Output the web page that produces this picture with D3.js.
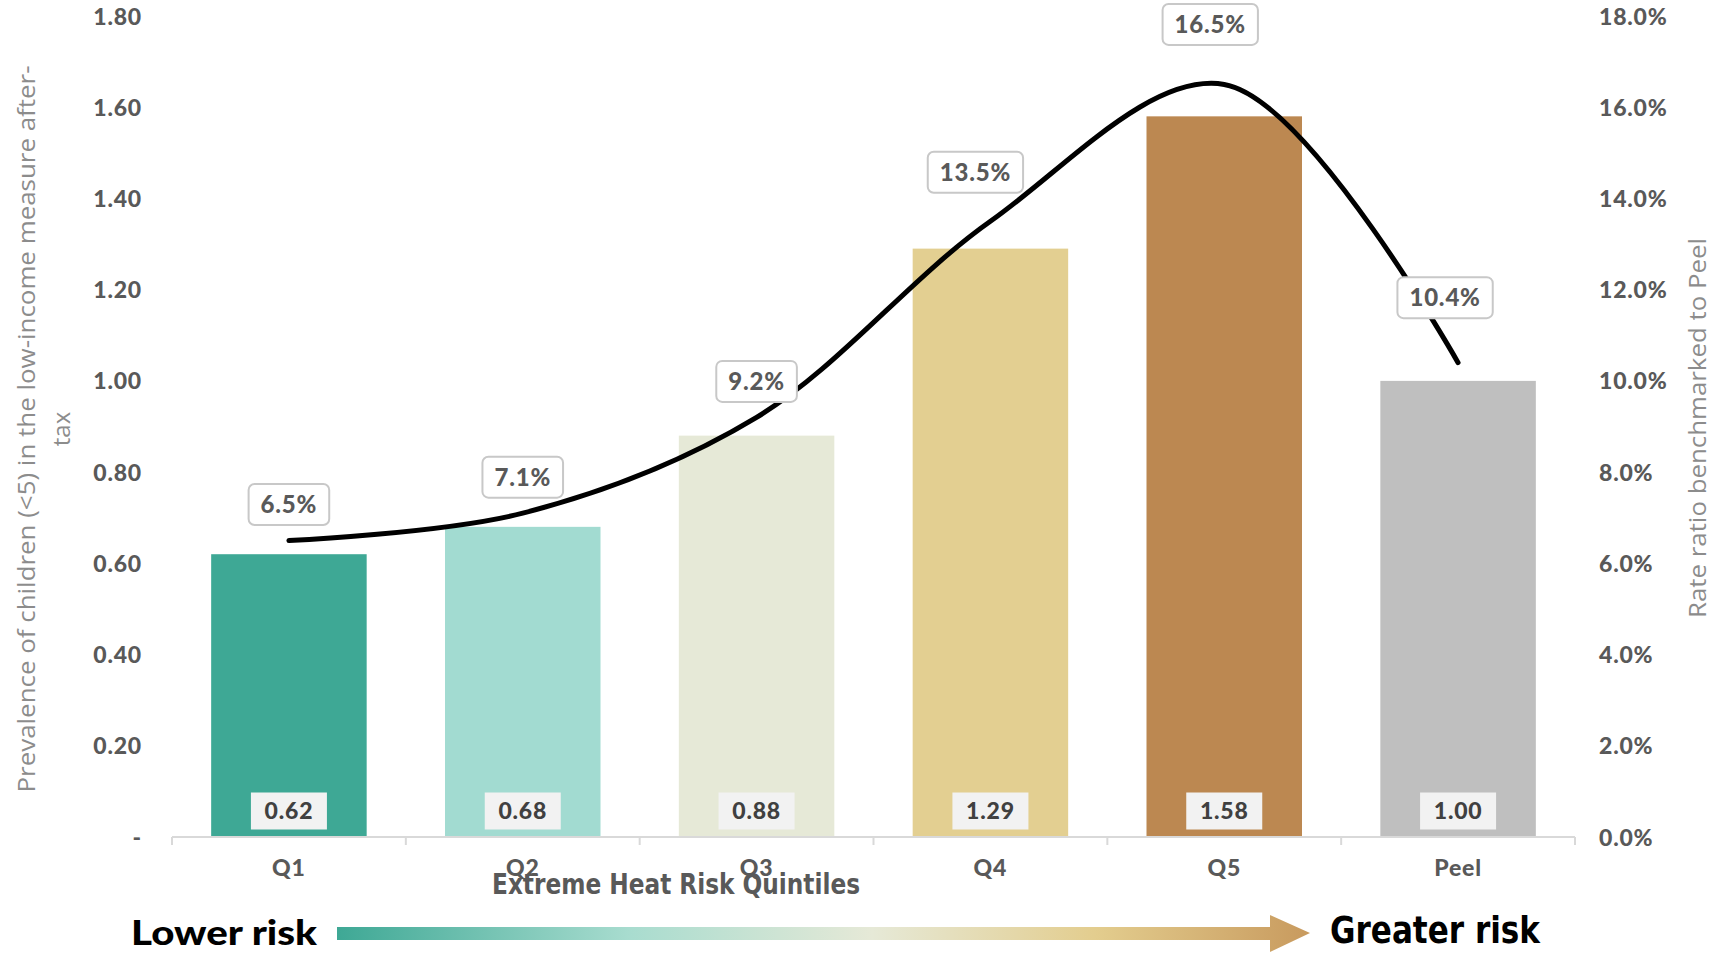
<!DOCTYPE html>
<html>
<head>
<meta charset="utf-8">
<script src="https://cdn.jsdelivr.net/npm/d3@7/dist/d3.min.js"></script>
<style>
  html, body { margin: 0; padding: 0; background: #ffffff; }
  svg { display: block; }
</style>
</head>
<body>
<svg id="chart" width="1716" height="953"></svg>
<script>
// ---- data ----
const categories = ["Q1", "Q2", "Q3", "Q4", "Q5", "Peel"];
const rateRatio = [0.62, 0.68, 0.88, 1.29, 1.58, 1.00];           // bars, left axis
const prevalence = [0.065, 0.071, 0.092, 0.135, 0.165, 0.104];     // line, right axis
const leftTicks = [0, 0.2, 0.4, 0.6, 0.8, 1.0, 1.2, 1.4, 1.6, 1.8];
const rightTicks = [0, 0.02, 0.04, 0.06, 0.08, 0.10, 0.12, 0.14, 0.16, 0.18];

// ---- styling / layout ----
const barColors = ["#3ea895", "#a2dbd1", "#e6e9d7", "#e3cf91", "#bc8851", "#bfbfbf"];
const pctLabelShift = [[0, -36], [0, -36], [0, -36], [-15, -49], [-14, -60], [-13, -65]];
const tickColor = "#595959";
const titleColor = "#8c8c8c";
const font = "Lato, 'Open Sans', sans-serif";
const wideFont = "'Open Sans', Lato, sans-serif";
const narrowFont = "'Liberation Sans Narrow', 'DejaVu Sans Condensed', sans-serif";

const numStyle = sel => sel
  .style("font-family", font)
  .style("font-weight", 900)
  .style("font-size", "23px")
  .style("letter-spacing", "0.8px");

const svg = d3.select("#chart");
const plot = { left: 172, right: 1575, top: 16, bottom: 837 };

const x = d3.scaleBand()
  .domain(categories)
  .range([plot.left, plot.right])
  .paddingInner(0.335)
  .paddingOuter(0.1675);

const yL = d3.scaleLinear().domain([0, 1.8]).range([plot.bottom, plot.top]);
const yR = d3.scaleLinear().domain([0, 0.18]).range([plot.bottom, plot.top]);

// ---- bars ----
svg.append("g").selectAll("rect")
  .data(categories)
  .join("rect")
  .attr("x", d => x(d))
  .attr("width", x.bandwidth())
  .attr("y", (d, i) => yL(rateRatio[i]))
  .attr("height", (d, i) => yL(0) - yL(rateRatio[i]))
  .attr("fill", (d, i) => barColors[i]);

// ---- left axis ----
const leftAxis = d3.axisLeft(yL)
  .tickValues(leftTicks)
  .tickSize(0)
  .tickPadding(0)
  .tickFormat(d => d === 0 ? "-" : d3.format(".2f")(d));
const gL = svg.append("g").attr("transform", `translate(142,0)`).call(leftAxis);
gL.select(".domain").remove();
gL.selectAll("text")
  .attr("fill", tickColor)
  .attr("dy", "0.35em")
  .call(numStyle);

// ---- right axis ----
const rightAxis = d3.axisRight(yR)
  .tickValues(rightTicks)
  .tickSize(0)
  .tickPadding(0)
  .tickFormat(d3.format(".1%"));
const gR = svg.append("g").attr("transform", `translate(1599,0)`).call(rightAxis);
gR.select(".domain").remove();
gR.selectAll("text")
  .attr("fill", tickColor)
  .attr("dy", "0.35em")
  .call(numStyle);

// ---- category axis ----
const bottomAxis = d3.axisBottom(x).tickSize(0).tickPadding(0);
const gB = svg.append("g").attr("transform", `translate(0,${plot.bottom})`).call(bottomAxis);
gB.select(".domain").attr("stroke", "#d9d9d9").attr("stroke-width", 2)
  .attr("d", `M${plot.left},0H${plot.right}`);
gB.selectAll("text")
  .attr("fill", tickColor)
  .attr("y", 39)
  .attr("dy", 0)
  .call(numStyle);
// separators between categories
const step = x.step();
svg.append("g").selectAll("line")
  .data(d3.range(categories.length + 1))
  .join("line")
  .attr("x1", i => plot.left + i * step)
  .attr("x2", i => plot.left + i * step)
  .attr("y1", plot.bottom)
  .attr("y2", plot.bottom + 8)
  .attr("stroke", "#d9d9d9")
  .attr("stroke-width", 2);

// ---- bar value labels ----
const barLbl = svg.append("g").selectAll("g")
  .data(categories)
  .join("g")
  .attr("transform", d => `translate(${x(d) + x.bandwidth() / 2},${yL(0) - 26})`);
barLbl.append("rect")
  .attr("x", -38).attr("y", -18.5)
  .attr("width", 76).attr("height", 37)
  .attr("fill", "#f2f2f2");
barLbl.append("text")
  .attr("text-anchor", "middle")
  .attr("dy", "0.36em")
  .attr("fill", "#404040")
  .call(numStyle)
  .text((d, i) => d3.format(".2f")(rateRatio[i]));

// ---- smoothed line ----
const line = d3.line()
  .x((d, i) => x(categories[i]) + x.bandwidth() / 2)
  .y(d => yR(d))
  .curve(d3.curveCatmullRom.alpha(0.5));
svg.append("path")
  .datum(prevalence)
  .attr("d", line)
  .attr("fill", "none")
  .attr("stroke", "#000")
  .attr("stroke-width", 5)
  .attr("stroke-linecap", "round")
  .attr("stroke-linejoin", "round");

// ---- percentage callouts ----
const pct = svg.append("g").selectAll("g")
  .data(categories)
  .join("g")
  .attr("transform", (d, i) =>
    `translate(${x(d) + x.bandwidth() / 2 + pctLabelShift[i][0]},${yR(prevalence[i]) + pctLabelShift[i][1]})`);
pct.append("text")
  .attr("text-anchor", "middle")
  .attr("dy", "0.36em")
  .attr("fill", tickColor)
  .call(numStyle)
  .style("font-size", "24px")
  .text((d, i) => d3.format(".1%")(prevalence[i]));
pct.each(function () {
  const g = d3.select(this);
  const bb = g.select("text").node().getBBox();
  const w = bb.width + 24, h = 41;
  g.insert("rect", "text")
    .attr("x", -w / 2).attr("y", -h / 2)
    .attr("width", w).attr("height", h)
    .attr("rx", 6).attr("ry", 6)
    .attr("fill", "#ffffff")
    .attr("stroke", "#c8c8c8")
    .attr("stroke-width", 2);
});

// ---- axis titles ----
const leftTitle = svg.append("text")
  .attr("transform", "translate(27,429) rotate(-90)")
  .attr("text-anchor", "middle")
  .attr("fill", titleColor)
  .style("font-family", wideFont)
  .style("font-size", "24px");
leftTitle.append("tspan").attr("x", 0).attr("dy", "0.35em")
  .attr("textLength", 727).attr("lengthAdjust", "spacingAndGlyphs")
  .text("Prevalence of children (<5) in the low-income measure after-");
leftTitle.append("tspan").attr("x", 0).attr("dy", 35).text("tax");

svg.append("text")
  .attr("transform", "translate(1698,428) rotate(-90)")
  .attr("text-anchor", "middle")
  .attr("dy", "0.35em")
  .attr("textLength", 380).attr("lengthAdjust", "spacingAndGlyphs")
  .attr("fill", titleColor)
  .style("font-family", wideFont)
  .style("font-size", "24px")
  .text("Rate ratio benchmarked to Peel");

svg.append("text")
  .attr("x", 676)
  .attr("y", 894)
  .attr("text-anchor", "middle")
  .attr("textLength", 368).attr("lengthAdjust", "spacingAndGlyphs")
  .attr("fill", tickColor)
  .style("font-family", narrowFont)
  .style("font-weight", 700)
  .style("font-size", "28px")
  .text("Extreme Heat  Risk Quintiles");

// ---- risk direction arrow ----
const defs = svg.append("defs");
const grad = defs.append("linearGradient")
  .attr("id", "riskGrad")
  .attr("gradientUnits", "userSpaceOnUse")
  .attr("x1", 337).attr("x2", 1310).attr("y1", 0).attr("y2", 0);
[["0%", "#3ea895"], ["30%", "#a8dccf"], ["55%", "#e6e9d7"], ["78%", "#e3cd8e"], ["100%", "#c89a5e"]]
  .forEach(([o, c]) => grad.append("stop").attr("offset", o).attr("stop-color", c));

svg.append("path")
  .attr("d", "M337,927H1270V915L1310,933L1270,952V940H337Z")
  .attr("fill", "url(#riskGrad)");

svg.append("text")
  .attr("x", 131)
  .attr("y", 945)
  .attr("textLength", 186)
  .attr("lengthAdjust", "spacingAndGlyphs")
  .attr("fill", "#000")
  .style("font-family", font)
  .style("font-weight", 900)
  .style("font-size", "35px")
  .text("Lower risk");

svg.append("text")
  .attr("x", 1330)
  .attr("y", 943)
  .attr("textLength", 210)
  .attr("lengthAdjust", "spacingAndGlyphs")
  .attr("fill", "#000")
  .style("font-family", narrowFont)
  .style("font-weight", 700)
  .style("font-size", "38px")
  .text("Greater risk");
</script>
</body>
</html>
